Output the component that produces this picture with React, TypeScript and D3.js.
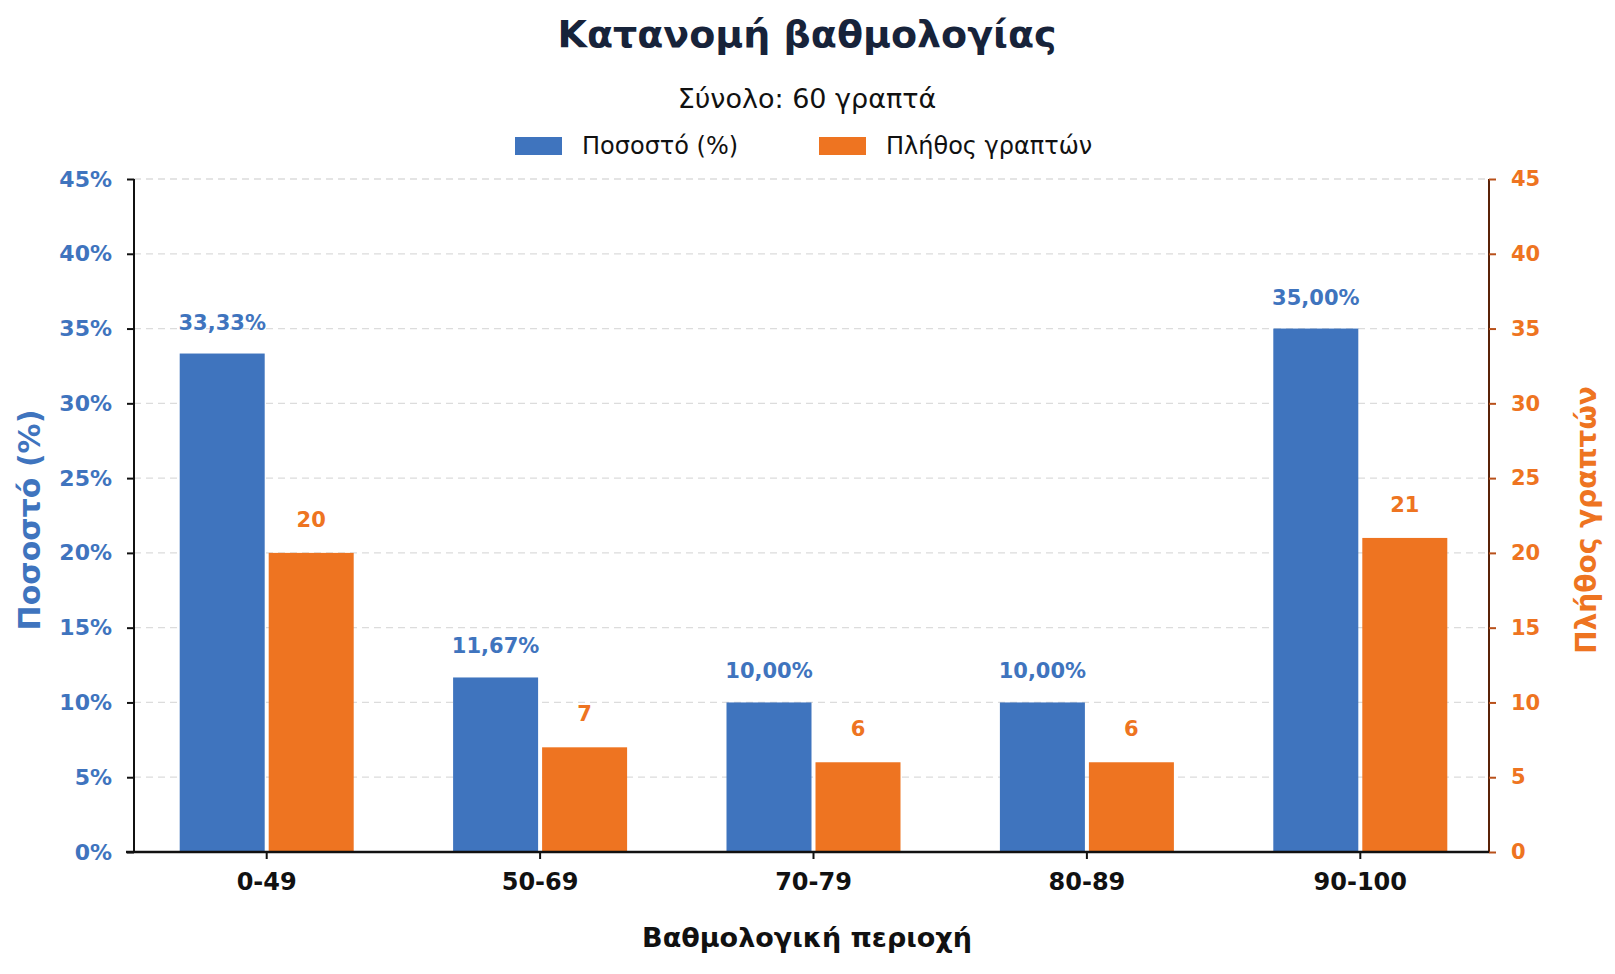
import { useEffect, useRef } from 'react';
import * as d3 from 'd3';

const categories = ['0-49', '50-69', '70-79', '80-89', '90-100'];
const percentValues = [33.33, 11.67, 10.0, 10.0, 35.0];
const countValues = [20, 7, 6, 6, 21];
const leftTicks = [0, 5, 10, 15, 20, 25, 30, 35, 40, 45];
const rightTicks = [0, 5, 10, 15, 20, 25, 30, 35, 40, 45];

const W = 1615;
const H = 974;
const BLUE = '#3f74be';
const ORANGE = '#ee7421';
const FONT = '"DejaVu Sans", sans-serif';

export default function App() {
  const svgRef = useRef<SVGSVGElement>(null);

  useEffect(() => {
    if (!svgRef.current) return;
    const svg = d3.select(svgRef.current);
    svg.selectAll('*').remove();

    const left = 134;
    const right = 1489;
    const top = 179;
    const bottom = 852;

    // bands are a bit wider than the axis span in the original
    const x = d3.scaleBand<string>()
      .domain(categories)
      .range([130, 1497])
      .padding(0);

    const yPct = d3.scaleLinear().domain([0, 45]).range([bottom, top]);
    const yCnt = d3.scaleLinear().domain([0, 45]).range([bottom, top]);

    const barW = 85;
    const gap = 4;

    svg.append('rect').attr('width', W).attr('height', H).attr('fill', '#ffffff');

    // Title + subtitle
    svg.append('text')
      .attr('x', 807).attr('y', 34)
      .attr('text-anchor', 'middle').attr('dominant-baseline', 'central')
      .attr('font-family', FONT).attr('font-weight', 'bold').attr('font-size', 38)
      .attr('fill', '#17233a')
      .text('Κατανομή βαθμολογίας');

    svg.append('text')
      .attr('x', 807).attr('y', 98)
      .attr('text-anchor', 'middle').attr('dominant-baseline', 'central')
      .attr('font-family', FONT).attr('font-size', 27)
      .attr('fill', '#111')
      .text('Σύνολο: 60 γραπτά');

    // Legend
    const legend = [
      { label: 'Ποσοστό (%)', color: BLUE, x: 515 },
      { label: 'Πλήθος γραπτών', color: ORANGE, x: 819 },
    ];
    legend.forEach(l => {
      svg.append('rect')
        .attr('x', l.x).attr('y', 137).attr('width', 47).attr('height', 18)
        .attr('fill', l.color);
      svg.append('text')
        .attr('x', l.x + 67).attr('y', 146)
        .attr('dominant-baseline', 'central')
        .attr('font-family', FONT).attr('font-size', 24)
        .attr('fill', '#111')
        .text(l.label);
    });

    // Grid
    svg.append('g')
      .selectAll('line')
      .data(leftTicks.filter(t => t > 0))
      .enter().append('line')
      .attr('x1', left).attr('x2', right)
      .attr('y1', d => yPct(d)).attr('y2', d => yPct(d))
      .attr('stroke', '#dcdcdc').attr('stroke-width', 1.3)
      .attr('stroke-dasharray', '7,5');

    // Bars
    const groups = svg.append('g')
      .selectAll('g')
      .data(categories)
      .enter().append('g');

    const cx = (d: string) => (x(d) || 0) + x.bandwidth() / 2;

    groups.append('rect')
      .attr('x', d => cx(d) - gap / 2 - barW)
      .attr('y', (d, i) => yPct(percentValues[i]))
      .attr('width', barW)
      .attr('height', (d, i) => bottom - yPct(percentValues[i]))
      .attr('fill', BLUE);

    groups.append('rect')
      .attr('x', d => cx(d) + gap / 2)
      .attr('y', (d, i) => yCnt(countValues[i]))
      .attr('width', barW)
      .attr('height', (d, i) => bottom - yCnt(countValues[i]))
      .attr('fill', ORANGE);

    // Value labels
    groups.append('text')
      .attr('x', d => cx(d) - gap / 2 - barW / 2)
      .attr('y', (d, i) => yPct(percentValues[i]) - 31)
      .attr('text-anchor', 'middle').attr('dominant-baseline', 'central')
      .attr('font-family', FONT).attr('font-weight', 'bold').attr('font-size', 21)
      .attr('fill', BLUE)
      .text((d, i) => percentValues[i].toFixed(2).replace('.', ',') + '%');

    groups.append('text')
      .attr('x', d => cx(d) + gap / 2 + barW / 2)
      .attr('y', (d, i) => yCnt(countValues[i]) - 33)
      .attr('text-anchor', 'middle').attr('dominant-baseline', 'central')
      .attr('font-family', FONT).attr('font-weight', 'bold').attr('font-size', 21)
      .attr('fill', ORANGE)
      .text((d, i) => String(countValues[i]));

    // Left axis
    const leftAxis = svg.append('g')
      .attr('transform', `translate(${left},0)`)
      .call(d3.axisLeft(yPct).tickValues(leftTicks).tickSize(7).tickPadding(15).tickFormat(d => `${d}%`));
    leftAxis.select('.domain').attr('stroke', '#111').attr('stroke-width', 2).attr('d', `M0,${top}V${bottom}`);
    leftAxis.selectAll('.tick line').attr('stroke', '#111').attr('stroke-width', 2);
    leftAxis.selectAll('.tick text')
      .attr('font-family', FONT).attr('font-weight', 'bold').attr('font-size', 22)
      .attr('fill', BLUE);

    // Right axis
    const rightAxis = svg.append('g')
      .attr('transform', `translate(${right},0)`)
      .call(d3.axisRight(yCnt).tickValues(rightTicks).tickSize(7).tickPadding(15));
    rightAxis.select('.domain').attr('stroke', '#5a2208').attr('stroke-width', 2).attr('d', `M0,${top}V${bottom}`);
    rightAxis.selectAll('.tick line').attr('stroke', '#b8501a').attr('stroke-width', 2);
    rightAxis.selectAll('.tick text')
      .attr('font-family', FONT).attr('font-weight', 'bold').attr('font-size', 21)
      .attr('fill', ORANGE);

    // Bottom axis
    const bottomAxis = svg.append('g')
      .attr('transform', `translate(0,${bottom})`)
      .call(d3.axisBottom(x).tickSize(7).tickPadding(14));
    bottomAxis.select('.domain').attr('stroke', '#111').attr('stroke-width', 2.5).attr('d', `M${left - 8},0H${right}`);
    bottomAxis.selectAll('.tick line').attr('stroke', '#111').attr('stroke-width', 2);
    bottomAxis.selectAll('.tick text')
      .attr('font-family', FONT).attr('font-weight', 'bold').attr('font-size', 24)
      .attr('fill', '#111');

    // Axis titles
    svg.append('text')
      .attr('x', 807).attr('y', 937)
      .attr('text-anchor', 'middle').attr('dominant-baseline', 'central')
      .attr('font-family', FONT).attr('font-weight', 'bold').attr('font-size', 27)
      .attr('fill', '#111')
      .text('Βαθμολογική περιοχή');

    svg.append('text')
      .attr('transform', `translate(29,520) rotate(-90)`)
      .attr('text-anchor', 'middle').attr('dominant-baseline', 'central')
      .attr('font-family', FONT).attr('font-weight', 'bold').attr('font-size', 30)
      .attr('fill', BLUE)
      .text('Ποσοστό (%)');

    svg.append('text')
      .attr('transform', `translate(1586,520) rotate(-90)`)
      .attr('text-anchor', 'middle').attr('dominant-baseline', 'central')
      .attr('font-family', FONT).attr('font-weight', 'bold').attr('font-size', 28)
      .attr('fill', ORANGE)
      .text('Πλήθος γραπτών');
  }, []);

  return (
    <svg
      ref={svgRef}
      width={W}
      height={H}
      style={{ position: 'absolute', left: 0, top: 0 }}
    />
  );
}
